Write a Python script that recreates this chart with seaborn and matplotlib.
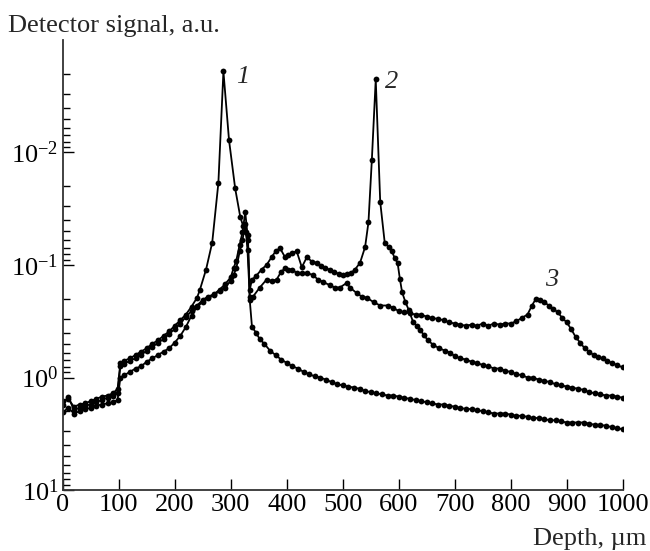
import numpy as np
import pandas as pd
import matplotlib
matplotlib.use("Agg")
import matplotlib.pyplot as plt
from matplotlib.ticker import FixedLocator, FixedFormatter, LogLocator, NullFormatter
import seaborn as sns

# ---- data (depth in um, detector signal given as log10 values) ----
depth_1 = [0, 10, 20, 30, 40, 50, 60, 70, 80, 90, 98, 103, 110, 120, 130, 140, 150, 160, 170, 180,
           190, 200, 210, 220, 230, 240, 245, 256, 267, 278, 287, 297, 308, 317, 322, 327, 331, 334, 338,
           345, 352, 360, 370, 380, 390, 400, 410, 420, 430, 440, 450, 460, 470, 480, 490, 500, 510,
           520, 530, 540, 550, 560, 570, 580, 590, 600, 610, 620, 630, 640, 650, 660, 670, 680, 690,
           700, 710, 720, 730, 740, 750, 760, 770, 780, 790, 800, 810, 820, 830, 840, 850, 860, 870,
           880, 890, 900, 910, 920, 930, 940, 950, 960, 970, 980, 990, 1000]
log_signal_1 = [0.21, 0.19, 0.26, 0.24, 0.23, 0.21, 0.19, 0.17, 0.16, 0.14, 0.10, -0.13, -0.15, -0.17, -0.20,
                -0.23, -0.26, -0.30, -0.33, -0.37, -0.41, -0.46, -0.51, -0.56, -0.63, -0.71, -0.78, -0.96,
                -1.20, -1.73, -2.72, -2.11, -1.68, -1.43, -1.35, -1.29, -1.22, -0.69, -0.45,
                -0.40, -0.34, -0.30, -0.24, -0.20, -0.16, -0.13, -0.10, -0.08, -0.05, -0.03, -0.01,
                0.00, 0.02, 0.04, 0.06, 0.07, 0.08, 0.09, 0.10, 0.12, 0.13, 0.14, 0.15, 0.16, 0.16,
                0.17, 0.18, 0.19, 0.20, 0.21, 0.22, 0.23, 0.24, 0.24, 0.25, 0.26, 0.27, 0.28, 0.28,
                0.29, 0.30, 0.31, 0.32, 0.32, 0.32, 0.33, 0.34, 0.34, 0.35, 0.36, 0.36, 0.37, 0.38,
                0.38, 0.39, 0.40, 0.40, 0.40, 0.40, 0.41, 0.42, 0.42, 0.43, 0.44, 0.45, 0.46]

depth_2 = [0, 10, 20, 30, 40, 50, 60, 70, 80, 90, 98, 103, 110, 120, 130, 140, 150, 160, 170, 180,
           190, 200, 210, 220, 230, 240, 250, 260, 270, 280, 290, 300, 305, 310, 316, 321, 326, 330,
           334, 338, 345, 355, 364, 373, 380, 388, 397, 403, 409, 418, 427, 436, 445, 454, 461, 468,
           477, 485, 493, 501, 508, 515, 522, 531, 540, 546, 552, 559, 567, 575, 582, 588, 593, 598,
           602, 606, 612, 618, 626, 632, 638, 645, 652, 662, 672, 682, 692, 700, 710, 720, 730, 740,
           750, 760, 770, 780, 790, 800, 810, 820, 830, 840, 850, 860, 870, 880, 890, 900, 910, 920,
           930, 940, 950, 960, 970, 980, 990, 1000]
log_signal_2 = [0.24, 0.17, 0.29, 0.27, 0.25, 0.24, 0.22, 0.20, 0.18, 0.16, 0.14, -0.10, -0.12, -0.15, -0.17,
                -0.20, -0.24, -0.27, -0.31, -0.34, -0.39, -0.43, -0.48, -0.54, -0.59, -0.64, -0.69, -0.72,
                -0.74, -0.78, -0.83, -0.89, -0.97, -1.04, -1.18, -1.29, -1.47, -1.27,
                -0.78, -0.87, -0.90, -0.96, -1.00, -1.07, -1.12, -1.15, -1.07, -1.09, -1.11, -1.12,
                -0.98, -1.07, -1.03, -1.02, -0.99, -0.97, -0.96, -0.94, -0.92, -0.91, -0.92, -0.93,
                -0.96, -1.02, -1.16, -1.38, -1.93, -2.65, -1.56, -1.20, -1.16, -1.12, -1.06, -1.02,
                -0.88, -0.76, -0.67, -0.60, -0.49, -0.46, -0.42, -0.38, -0.33, -0.29, -0.26, -0.24,
                -0.22, -0.19, -0.17, -0.16, -0.14, -0.13, -0.11, -0.10, -0.08, -0.08, -0.06, -0.05,
                -0.03, -0.02, 0.00, 0.00, 0.02, 0.03, 0.04, 0.06, 0.07, 0.08, 0.09, 0.10, 0.11, 0.13,
                0.14, 0.15, 0.16, 0.16, 0.17, 0.18]

depth_3 = [0, 10, 20, 30, 40, 50, 60, 70, 80, 90, 98, 103, 110, 120, 130, 140, 150, 160, 170, 180,
           190, 200, 210, 220, 230, 240, 250, 260, 270, 280, 290, 300, 305, 310, 316, 321, 326, 330,
           334, 340, 352, 364, 373, 382, 390, 397, 403, 409, 418, 427, 436, 447, 456, 465, 477, 486,
           495, 507, 513, 525, 534, 543, 555, 567, 580, 590, 600, 610, 620, 630, 640, 650, 660, 670,
           680, 690, 700, 710, 720, 730, 740, 750, 760, 770, 780, 790, 800, 810, 820, 830, 838, 845,
           852, 860, 868, 876, 884, 892, 900, 908, 916, 924, 932, 940, 948, 956, 964, 972, 980, 990, 1000]
log_signal_3 = [0.31, 0.27, 0.32, 0.30, 0.28, 0.27, 0.25, 0.24, 0.23, 0.22, 0.20, 0.00, -0.02, -0.05, -0.08,
                -0.10, -0.14, -0.17, -0.20, -0.23, -0.26, -0.31, -0.37, -0.45, -0.55, -0.63, -0.67, -0.71,
                -0.73, -0.77, -0.80, -0.86, -0.91, -0.97, -1.12, -1.22, -1.36, -1.13,
                -0.72, -0.72, -0.80, -0.87, -0.86, -0.87, -0.94, -0.97, -0.96, -0.96, -0.93, -0.93,
                -0.93, -0.91, -0.87, -0.85, -0.82, -0.80, -0.80, -0.84, -0.80, -0.75, -0.72, -0.71,
                -0.67, -0.64, -0.64, -0.62, -0.59, -0.58, -0.57, -0.56, -0.56, -0.54, -0.53, -0.52,
                -0.51, -0.49, -0.48, -0.47, -0.46, -0.47, -0.46, -0.48, -0.46, -0.48, -0.47, -0.48,
                -0.48, -0.50, -0.53, -0.56, -0.64, -0.70, -0.69, -0.67, -0.64, -0.61, -0.58, -0.53,
                -0.49, -0.43, -0.36, -0.31, -0.26, -0.23, -0.20, -0.18, -0.17, -0.15, -0.13, -0.11, -0.09]

curve_labels = ["1", "2", "3"]
label_depth = [321, 588, 873]
label_signal = [0.00213, 0.00234, 0.136]

y_tick_values = [1e-2, 1e-1, 1e0, 1e1]
y_tick_labels = [r"$10^{-2}$", r"$10^{-1}$", r"$10^{0}$", r"$10^{1}$"]
x_tick_values = list(range(0, 1001, 100))

# ---- build table ----
frames = []
for name, d, ls in [("1", depth_1, log_signal_1), ("2", depth_2, log_signal_2), ("3", depth_3, log_signal_3)]:
    frames.append(pd.DataFrame({"depth": d, "signal": 10.0 ** np.array(ls), "curve": name}))
df = pd.concat(frames, ignore_index=True)

sns.set_style("ticks")
plt.rcParams["font.family"] = ["Liberation Serif", "DejaVu Serif"]
plt.rcParams["mathtext.fontset"] = "custom"
plt.rcParams["mathtext.rm"] = "Liberation Serif"
plt.rcParams["mathtext.it"] = "Liberation Serif:italic"

FS = 19

fig = plt.figure(figsize=(6.5, 5.51), dpi=100)
ax = fig.add_axes([62.7 / 650, 61 / 551, 560 / 650, 450 / 551])

for name in curve_labels:
    sub = df[df["curve"] == name]
    sns.lineplot(data=sub, x="depth", y="signal", ax=ax, color="black", linewidth=1.3,
                 marker="o", markersize=4.2, markeredgewidth=0, estimator=None, sort=False,
                 legend=False)

ax.set_yscale("log")
ax.set_xlim(0, 1000)
ax.set_ylim(10, 1e-3)

ax.xaxis.set_major_locator(FixedLocator(x_tick_values))
ax.set_xticklabels([str(v) for v in x_tick_values])
ax.yaxis.set_major_locator(FixedLocator(y_tick_values))
ax.yaxis.set_major_formatter(FixedFormatter(y_tick_labels))
ax.yaxis.set_minor_locator(LogLocator(base=10, subs=np.arange(2, 10)))
ax.yaxis.set_minor_formatter(NullFormatter())
ax.xaxis.set_minor_locator(FixedLocator([]))

ax.tick_params(axis="both", which="major", direction="in", length=8, width=1.0,
               labelsize=FS, colors="black", pad=3)
ax.tick_params(axis="y", which="minor", direction="in", length=5, width=1.0, colors="black")
for side in ["top", "right"]:
    ax.spines[side].set_visible(False)
for side in ["left", "bottom"]:
    ax.spines[side].set_linewidth(1.3)
    ax.spines[side].set_color("#333333")

ax.set_xlabel("")
ax.set_ylabel("")

for lab, d, s in zip(curve_labels, label_depth, label_signal):
    ax.text(d, s, lab, fontsize=FS, fontstyle="italic", ha="center", va="center")

fig.text(8 / 650, 1 - 32 / 551, "Detector signal, a.u.", fontsize=FS, ha="left", va="baseline")
fig.text(646 / 650, 1 - 545 / 551, "Depth, µm", fontsize=FS, ha="right", va="baseline")

fig.savefig("out.png", dpi=100)
